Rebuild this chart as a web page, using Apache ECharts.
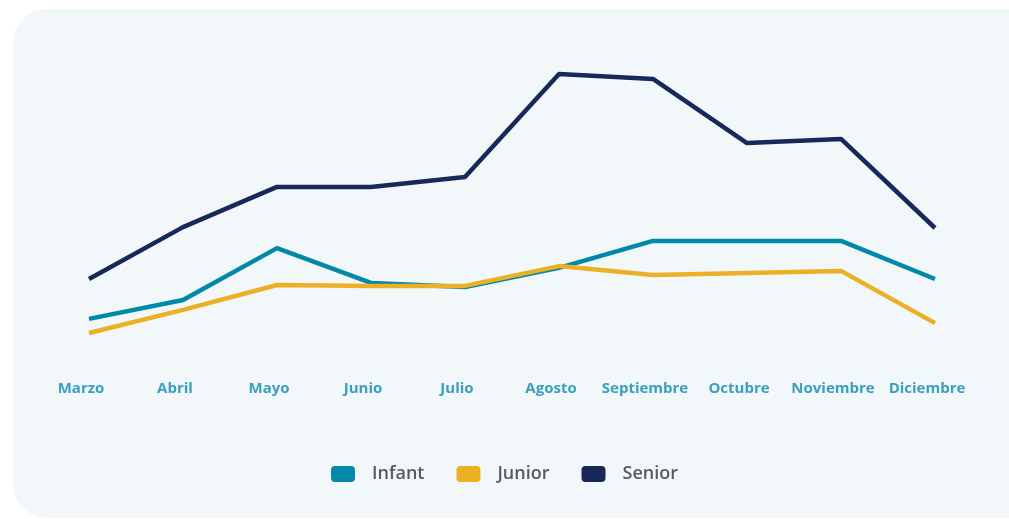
<!DOCTYPE html>
<html>
<head>
<meta charset="utf-8">
<script src="https://cdn.jsdelivr.net/npm/echarts@6/dist/echarts.min.js"></script>
<style>
  html, body { margin: 0; padding: 0; background: #ffffff; }
  #panel {
    position: absolute; left: 13px; top: 9px; width: 1030px; height: 509px;
    background: #f2f7fa; border-radius: 34px;
  }
  #chart { position: absolute; left: 0; top: 0; width: 1009px; height: 519px; }
</style>
</head>
<body>
<div id="panel"></div>
<div id="chart"></div>
<script>
// meses
var meses = ["Marzo", "Abril", "Mayo", "Junio", "Julio", "Agosto", "Septiembre", "Octubre", "Noviembre", "Diciembre"];
// valores por categoria
var infant = [13.7, 20, 37.3, 25.7, 24.3, 30.7, 39.7, 39.7, 39.7, 27];
var junior = [9, 16.7, 25, 24.7, 24.7, 31.3, 28.3, 29, 29.7, 12.3];
var senior = [27, 44.3, 57.7, 57.7, 61, 95.3, 93.7, 72.3, 73.7, 44];

var myChart = echarts.init(document.getElementById("chart"));
var option = {
  legend: {
    bottom: 31,
    left: "center",
    itemWidth: 24,
    itemHeight: 16,
    itemGap: 32,
    icon: "roundRect",
    textStyle: { color: "#595959", fontSize: 18, fontWeight: 600, fontFamily: "Open Sans", padding: [0, 0, 0, 12] },
    data: ["Infant", "Junior", "Senior"]
  },
  grid: { left: 89, right: 74, top: 60, bottom: 159 },
  xAxis: {
    type: "category",
    boundaryGap: false,
    data: meses,
    axisLine: { show: false },
    axisTick: { show: false },
    axisLabel: { color: "#3b9fc1", fontSize: 15, fontWeight: 700, fontFamily: "Open Sans", margin: 21, interval: 0, padding: [0, 16, 0, 0] }
  },
  yAxis: {
    type: "value",
    min: 0,
    max: 100,
    show: false
  },
  series: [
    {
      name: "Infant",
      type: "line",
      data: infant,
      showSymbol: false,
      itemStyle: { color: "#0289a9" },
      lineStyle: { width: 4.5, color: "#0289a9" }
    },
    {
      name: "Junior",
      type: "line",
      data: junior,
      showSymbol: false,
      itemStyle: { color: "#ebb024" },
      lineStyle: { width: 4.5, color: "#ebb024" }
    },
    {
      name: "Senior",
      type: "line",
      data: senior,
      showSymbol: false,
      itemStyle: { color: "#17295a" },
      lineStyle: { width: 4.5, color: "#17295a" }
    }
  ]
};
myChart.setOption(option);
</script>
</body>
</html>
